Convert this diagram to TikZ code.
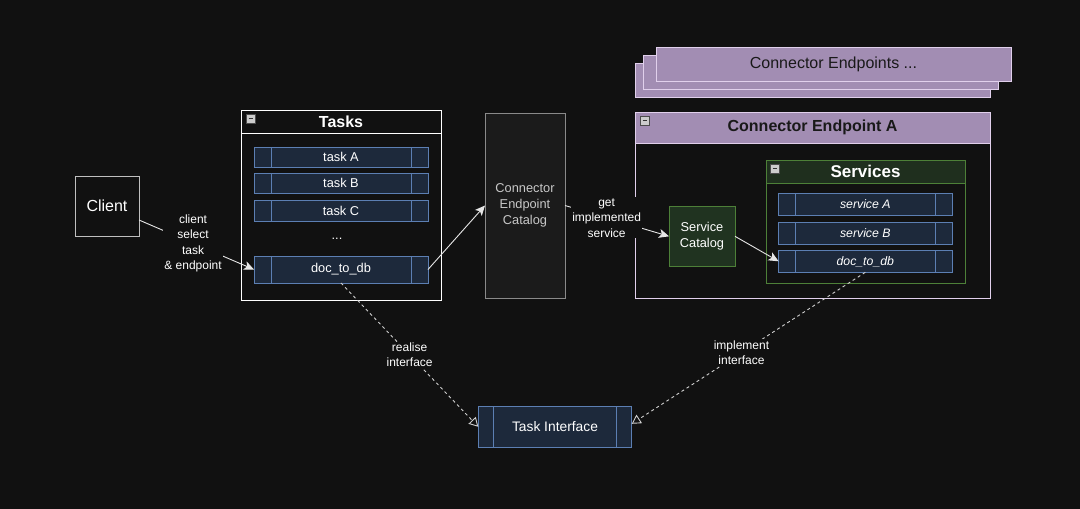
\documentclass[tikz,border=0pt]{standalone}
\usepackage{fontspec}
\setmainfont{Liberation Sans}
\usetikzlibrary{arrows.meta,calc}
\definecolor{bg}{HTML}{111111}
\definecolor{taskfill}{HTML}{1D293B}
\definecolor{taskline}{HTML}{5C7FB3}
\definecolor{catfill}{HTML}{1B1B1B}
\definecolor{catline}{HTML}{8A8A8A}
\definecolor{cattext}{HTML}{C8C8C8}
\definecolor{purp}{HTML}{A28DB3}
\definecolor{purpline}{HTML}{E1D0EC}
\definecolor{grnhead}{HTML}{1F2F1E}
\definecolor{grnline}{HTML}{4D8038}
\definecolor{scfill}{HTML}{203320}
\definecolor{edge}{HTML}{E6E6E6}
\definecolor{dash}{HTML}{CFCFCF}
\tikzset{
  box/.style={draw, inner sep=0pt, outer sep=0pt, line width=0.9pt},
  item/.style={box, draw=taskline, fill=taskfill, text=white, font=\fontsize{12.8}{15}\selectfont},
  lab/.style={fill=bg, text=white, inner sep=1pt, align=center, font=\fontsize{12}{15.5}\selectfont},
  arr/.style={draw=edge, line width=0.9pt, -{Stealth[length=10pt,width=9pt,inset=2.5pt]}},
  iface/.style={draw=dash, line width=0.9pt, dash pattern=on 3pt off 3pt, -{Triangle[open,length=9pt,width=10pt]}},
}
\newcommand{\minusicon}[2]{%
  \draw[fill=white!80!black, draw=black!70, line width=0.4pt] (#1,#2) rectangle ++(8.5,8.5);
  \draw[black!80, line width=1.2pt] (#1+2,#2+4.25) -- (#1+6.5,#2+4.25);}
\newcommand{\itembars}[2]{%
  \draw[taskline, line width=0.9pt] ([xshift=#2]#1.north west) -- ([xshift=#2]#1.south west);
  \draw[taskline, line width=0.9pt] ([xshift=-#2]#1.north east) -- ([xshift=-#2]#1.south east);}
\begin{document}
\begin{tikzpicture}[x=1pt,y=-1pt]
\fill[bg] (0,0) rectangle (1080,509);
\useasboundingbox (0,0) rectangle (1080,509);

% Client
\node[box, draw=white!75!black, fill=bg, text=white, minimum width=64, minimum height=60,
  font=\fontsize{16}{19}\selectfont] (client) at (107,206) {Client};

% Tasks container
\node[box, draw=white, fill=bg, minimum width=200, minimum height=190] (tasks) at (341,205) {};
\draw[white, line width=0.9pt] (241,133) -- (441,133);
\node[text=white, font=\bfseries\fontsize{16}{19}\selectfont] (taskstitle) at (341,121.5) {Tasks};
\minusicon{246.5}{114.5}

\node[item, minimum width=174, minimum height=20] (ta) at (341,157) {task A};
\node[item, minimum width=174, minimum height=20] (tb) at (341,183) {task B};
\node[item, minimum width=174, minimum height=21] (tc) at (341,210.5) {task C};
\node[text=white, font=\fontsize{12.8}{15}\selectfont] (dots) at (337,239) {...};
\node[item, minimum width=174, minimum height=27] (doc) at (341,269.5) {doc\_to\_db};
\itembars{ta}{17}\itembars{tb}{17}\itembars{tc}{17}\itembars{doc}{17}

% Connector Endpoint Catalog
\node[box, draw=catline, fill=catfill, text=cattext, minimum width=80, minimum height=185,
  align=center, font=\fontsize{12.8}{15.7}\selectfont] (cat) at (525,205.5) {Connector\\Endpoint\\Catalog};

% Stacked connector endpoints
\node[box, draw=purpline, fill=purp, minimum width=355, minimum height=34] (st3) at (812.5,80.3) {};
\node[box, draw=purpline, fill=purp, minimum width=355, minimum height=34] (st2) at (821,72.3) {};
\node[box, draw=purpline, fill=purp, text=black!90, minimum width=355, minimum height=34,
  font=\fontsize{16}{19}\selectfont] (st1) at (833.5,64.3) {Connector Endpoints ...};

% Connector Endpoint A
\node[box, draw=purpline, fill=bg, minimum width=355, minimum height=186] (cea) at (812.5,205) {};
\fill[purp] (635,112) rectangle (990,143.3);
\draw[purpline, line width=0.9pt] (635,112) rectangle (990,298);
\draw[purpline, line width=0.9pt] (635,143.3) -- (990,143.3);
\node[text=black!90, font=\bfseries\fontsize{16}{19}\selectfont] (ceatitle) at (812.5,127.5) {Connector Endpoint A};
\minusicon{640.5}{116.5}

% Services container
\node[box, draw=grnline, fill=bg, minimum width=199, minimum height=123.4] (svc) at (865.5,222) {};
\fill[grnhead] (766,160.3) rectangle (965,183.7);
\draw[grnline, line width=0.9pt] (766,160.3) rectangle (965,283.7);
\draw[grnline, line width=0.9pt] (766,183.7) -- (965,183.7);
\node[text=white, font=\bfseries\fontsize{17}{20}\selectfont] (svctitle) at (865.5,171.5) {Services};
\minusicon{770.5}{164.5}

\node[item, minimum width=173.4, minimum height=21.6, font=\itshape\fontsize{12.3}{14.5}\selectfont] (sa) at (865.3,204.5) {service A};
\node[item, minimum width=173.4, minimum height=22, font=\itshape\fontsize{12.3}{14.5}\selectfont] (sb) at (865.3,233.3) {service B};
\node[item, minimum width=173.4, minimum height=22, font=\itshape\fontsize{12.3}{14.5}\selectfont] (sdoc) at (865.3,261.3) {doc\_to\_db};
\itembars{sa}{17}\itembars{sb}{17}\itembars{sdoc}{17}

% Service Catalog
\node[box, draw=grnline, fill=scfill, text=white, minimum width=66, minimum height=60,
  align=center, font=\fontsize{12.8}{15.7}\selectfont] (sc) at (702,236.3) {Service\\Catalog};

% Task Interface
\node[item, minimum width=153.4, minimum height=41, font=\fontsize{13.8}{16}\selectfont] (ti) at (555,426.8) {Task Interface};
\itembars{ti}{15}

% Connectors
\draw[arr] ([yshift=-14pt]client.east) -- node[lab, pos=0.47] {client\\select\\task\\\& endpoint} (doc.west);
\draw[arr] (doc.east) -- (cat.west);
\draw[arr] (cat.east) -- node[lab, pos=0.4] {get\\implemented\\service} (sc.west);
\draw[arr] (sc.east) -- (sdoc.west);
\draw[iface] (doc.south) -- node[lab, pos=0.5] {realise\\interface} (ti.west);
\draw[iface] (sdoc.south) -- node[lab, pos=0.53] {implement\\interface} ([yshift=3pt]ti.east);
\end{tikzpicture}
\end{document}
